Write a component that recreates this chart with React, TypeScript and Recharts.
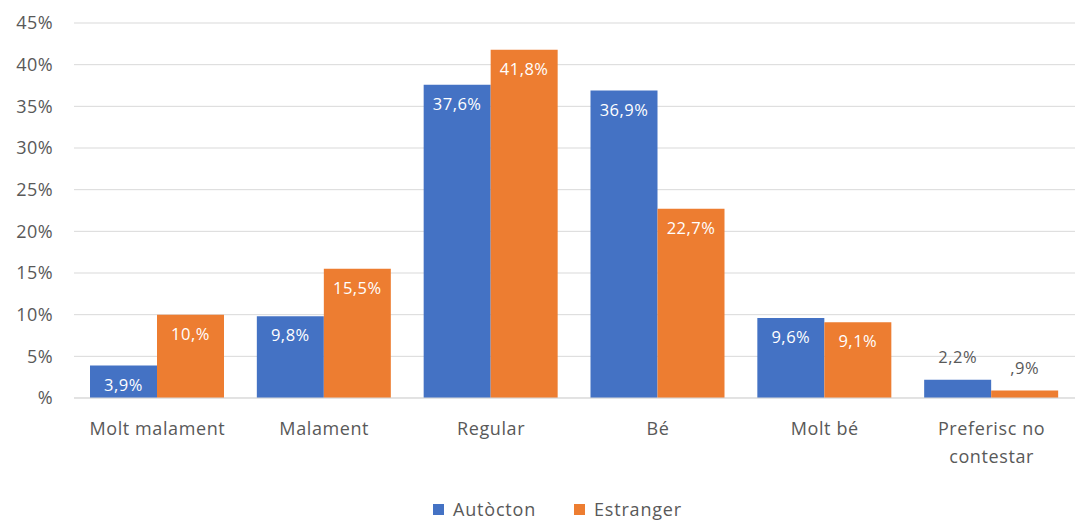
import { Bar, BarChart, CartesianGrid, LabelList, Legend, Text, XAxis, YAxis } from "recharts";

const categories = ["Molt malament", "Malament", "Regular", "Bé", "Molt bé", "Preferisc no contestar"];
const autocton = [3.9, 9.8, 37.6, 36.9, 9.6, 2.2];
const estranger = [10.0, 15.5, 41.8, 22.7, 9.1, 0.9];
const autoctonLabels = ["3,9%", "9,8%", "37,6%", "36,9%", "9,6%", "2,2%"];
const estrangerLabels = ["10,%", "15,5%", "41,8%", "22,7%", "9,1%", ",9%"];
const yTicks = [0, 5, 10, 15, 20, 25, 30, 35, 40, 45];
const seriesNames = ["Autòcton", "Estranger"];
const seriesColors = ["#4472c4", "#ed7d31"];

const data = categories.map((name, i) => ({
  name,
  autocton: autocton[i],
  estranger: estranger[i],
}));

const FONT = "'Open Sans', 'Noto Sans', sans-serif";
const GREY = "#595959";

function makeLabel(labels: string[]) {
  return (props: any) => {
    const { x, y, width, index } = props;
    const small = index === 5;
    return (
      <text
        x={Number(x) + Number(width) / 2}
        y={small ? Number(y) - 17 : Number(y) + 25}
        textAnchor="middle"
        fill={small ? GREY : "#ffffff"}
        fontSize={16.5}
        fontFamily={FONT}
        letterSpacing={0.5}
      >
        {labels[index]}
      </text>
    );
  };
}

function CategoryTick(props: any) {
  const { x, y, payload } = props;
  return (
    <Text
      x={x}
      y={y}
      width={125}
      textAnchor="middle"
      verticalAnchor="start"
      fill={GREY}
      fontSize={18}
      fontFamily={FONT}
      lineHeight={28}
      letterSpacing={0.6}
    >
      {payload.value}
    </Text>
  );
}

function LegendContent() {
  return (
    <div style={{ display: "flex", justifyContent: "center", gap: 38, paddingLeft: 40, fontFamily: FONT, fontSize: 18, color: GREY, letterSpacing: 0.8 }}>
      {seriesNames.map((n, i) => (
        <div key={n} style={{ display: "flex", alignItems: "center" }}>
          <span style={{ display: "inline-block", width: 11, height: 11, background: seriesColors[i], marginRight: 9 }} />
          <span>{n}</span>
        </div>
      ))}
    </div>
  );
}

export default function App() {
  return (
    <div style={{ position: "absolute", left: 0, top: 0, background: "#fff" }}>
      <BarChart
        width={1077}
        height={521}
        data={data}
        margin={{ top: 23, right: 2, left: 0, bottom: 0 }}
        barCategoryGap={16}
        barGap={0}
      >
        <CartesianGrid vertical={false} stroke="#d9d9d9" />
        <XAxis
          dataKey="name"
          tick={<CategoryTick />}
          tickLine={false}
          axisLine={{ stroke: "#d9d9d9" }}
          tickSize={0}
          tickMargin={24}
          height={99}
          interval={0}
        />
        <YAxis
          domain={[0, 45]}
          ticks={yTicks}
          tickFormatter={(v) => (v === 0 ? "%" : `${v}%`)}
          tickLine={false}
          axisLine={false}
          tickSize={0}
          tickMargin={21}
          width={74}
          tick={{ fill: GREY, fontSize: 18, fontFamily: FONT, letterSpacing: 0.4 }}
        />
        <Legend verticalAlign="bottom" height={24} content={<LegendContent />} />
        <Bar dataKey="autocton" name={seriesNames[0]} fill={seriesColors[0]} isAnimationActive={false}>
          <LabelList dataKey="autocton" content={makeLabel(autoctonLabels)} />
        </Bar>
        <Bar dataKey="estranger" name={seriesNames[1]} fill={seriesColors[1]} isAnimationActive={false}>
          <LabelList dataKey="estranger" content={makeLabel(estrangerLabels)} />
        </Bar>
      </BarChart>
    </div>
  );
}
